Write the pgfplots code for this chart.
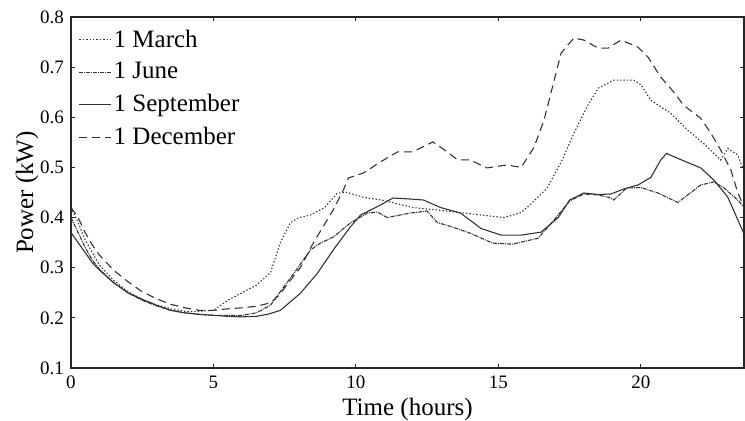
\documentclass[border=0pt]{standalone}
\usepackage{pgfplots}
\pgfplotsset{compat=1.18}
\usepackage{fontspec}
\setmainfont{Liberation Serif}
\begin{document}
\begin{tikzpicture}
\begin{axis}[
  scale only axis,
  width=336.5pt, height=175.5pt,
  xmin=0, xmax=23.62, ymin=0.1, ymax=0.8,
  xtick={0,5,10,15,20}, ytick={0.1,0.2,0.3,0.4,0.5,0.6,0.7,0.8},
  yticklabel style={/pgf/number format/fixed,/pgf/number format/precision=1,/pgf/number format/fixed zerofill},
  /pgf/number format/assume math mode=true,
  tick align=inside, major tick length=2pt,
  xtick pos=both, ytick pos=both,
  tick label style={font=\fontsize{9.5}{11}\selectfont},
  label style={font=\fontsize{12.5}{14}\selectfont},
  xlabel={Time (hours)}, ylabel={Power (kW)},
  xlabel style={at={(axis description cs:0.5,0)},anchor=center,yshift=-20.5pt},
  ylabel style={at={(axis description cs:0,0.5)},anchor=center,yshift=22pt},
  xticklabel style={yshift=-0.5pt},
  axis line style={line width=0.6pt, black!85},
  every tick/.style={black!85, line width=0.5pt},
  legend style={draw=none, fill=none, at={(0.008,0.982)}, anchor=north west,
    font=\fontsize{12.5}{14}\selectfont, row sep=2.2pt, inner sep=1pt,
    nodes={inner xsep=1pt}},
  legend cell align=left,
  legend image code/.code={\draw[#1] (0cm,0cm) -- (0.56cm,0cm);},
  every axis plot/.append style={line width=0.55pt, black!80},
]
\addplot[dash pattern=on 0.7pt off 1pt] coordinates {
(0,0.42)(0.25,0.39)(0.5,0.355)(0.75,0.33)(1,0.305)(1.5,0.275)(2,0.252)(2.5,0.237)(3,0.226)(3.5,0.218)(4,0.213)(4.5,0.213)
(5,0.215)(5.5,0.235)(6,0.25)(6.5,0.265)(7,0.29)(7.35,0.35)(7.7,0.39)(8,0.40)(8.4,0.405)(8.9,0.42)(9.35,0.449)(9.7,0.45)
(10.3,0.44)(10.9,0.435)(12.0,0.42)(13.2,0.413)(14.4,0.405)(15.2,0.40)(15.8,0.41)(16.1,0.425)(16.7,0.458)(17.2,0.51)
(17.65,0.568)(18.1,0.62)(18.5,0.658)(19.05,0.674)(19.75,0.674)(20.0,0.665)(20.35,0.634)(21.05,0.608)(21.65,0.574)
(22.2,0.548)(22.8,0.515)(23.05,0.538)(23.4,0.525)(23.7,0.48)};
\addlegendentry{1 March}
\addplot[dash pattern=on 2pt off 0.5pt on 0.5pt off 0.5pt] coordinates {
(0,0.40)(0.25,0.37)(0.5,0.34)(0.75,0.315)(1,0.297)(1.5,0.27)(2,0.25)(2.5,0.235)(3,0.224)(3.5,0.215)(4,0.21)(4.5,0.207)
(5,0.205)(5.5,0.205)(6,0.205)(6.5,0.21)(7,0.225)(7.2,0.241)(7.9,0.295)(8.4,0.335)(8.75,0.349)(9.2,0.361)(9.8,0.389)
(10.4,0.409)(10.75,0.411)(11.1,0.40)(11.9,0.409)(12.5,0.413)(12.86,0.39)(13.4,0.381)(14.0,0.369)(14.8,0.349)(15.5,0.347)
(16.4,0.359)(16.95,0.395)(17.5,0.433)(18.0,0.447)(18.5,0.445)(18.9,0.44)(19.05,0.435)(19.5,0.459)(20.0,0.46)(20.6,0.449)
(21.3,0.43)(22.1,0.465)(22.56,0.471)(22.9,0.46)(23.4,0.435)(23.7,0.415)};
\addlegendentry{1 June}
\addplot[solid] coordinates {
(0,0.37)(0.25,0.35)(0.5,0.33)(0.75,0.31)(1,0.295)(1.5,0.27)(2,0.25)(2.5,0.237)(3,0.225)(3.5,0.215)(4,0.21)(4.5,0.207)
(5,0.205)(5.5,0.203)(6,0.202)(6.5,0.203)(6.9,0.207)(7.35,0.215)(8.05,0.249)(8.65,0.289)(9.2,0.335)(9.8,0.381)(10.16,0.405)
(10.86,0.425)(11.3,0.439)(11.9,0.437)(12.37,0.435)(12.97,0.42)(13.67,0.409)(14.4,0.378)(15.1,0.365)(15.8,0.365)(16.5,0.371)
(17.1,0.40)(17.5,0.435)(18.0,0.449)(18.5,0.446)(18.95,0.447)(19.4,0.457)(19.9,0.465)(20.35,0.48)(20.7,0.515)(20.9,0.528)
(21.3,0.518)(22.1,0.499)(22.56,0.475)(23.05,0.441)(23.6,0.37)};
\addlegendentry{1 September}
\addplot[dash pattern=on 4pt off 2.5pt] coordinates {
(0,0.42)(0.25,0.40)(0.5,0.37)(0.75,0.345)(1,0.325)(1.5,0.295)(2,0.272)(2.5,0.252)(3,0.238)(3.5,0.227)(4,0.22)(4.5,0.215)
(5,0.215)(5.5,0.218)(6,0.22)(6.5,0.223)(7,0.23)(7.3,0.245)(7.7,0.275)(8.05,0.30)(8.5,0.349)(9.2,0.415)(9.56,0.455)(9.74,0.479)
(10.27,0.489)(10.86,0.511)(11.46,0.531)(12.0,0.531)(12.7,0.551)(13.2,0.531)(13.57,0.515)(14.0,0.515)(14.6,0.499)(15.3,0.505)
(15.8,0.50)(16.25,0.54)(16.6,0.594)(17.2,0.728)(17.65,0.758)(18.0,0.754)(18.5,0.738)(18.85,0.738)(19.3,0.754)(19.9,0.74)
(20.25,0.72)(20.7,0.68)(21.16,0.65)(21.5,0.624)(22.1,0.598)(22.46,0.568)(22.8,0.535)(23.16,0.495)(23.4,0.45)(23.7,0.41)};
\addlegendentry{1 December}
\end{axis}
\pgfresetboundingbox
\path (-35.5pt,-26.5pt) rectangle (337pt,184pt);
\end{tikzpicture}
\end{document}
